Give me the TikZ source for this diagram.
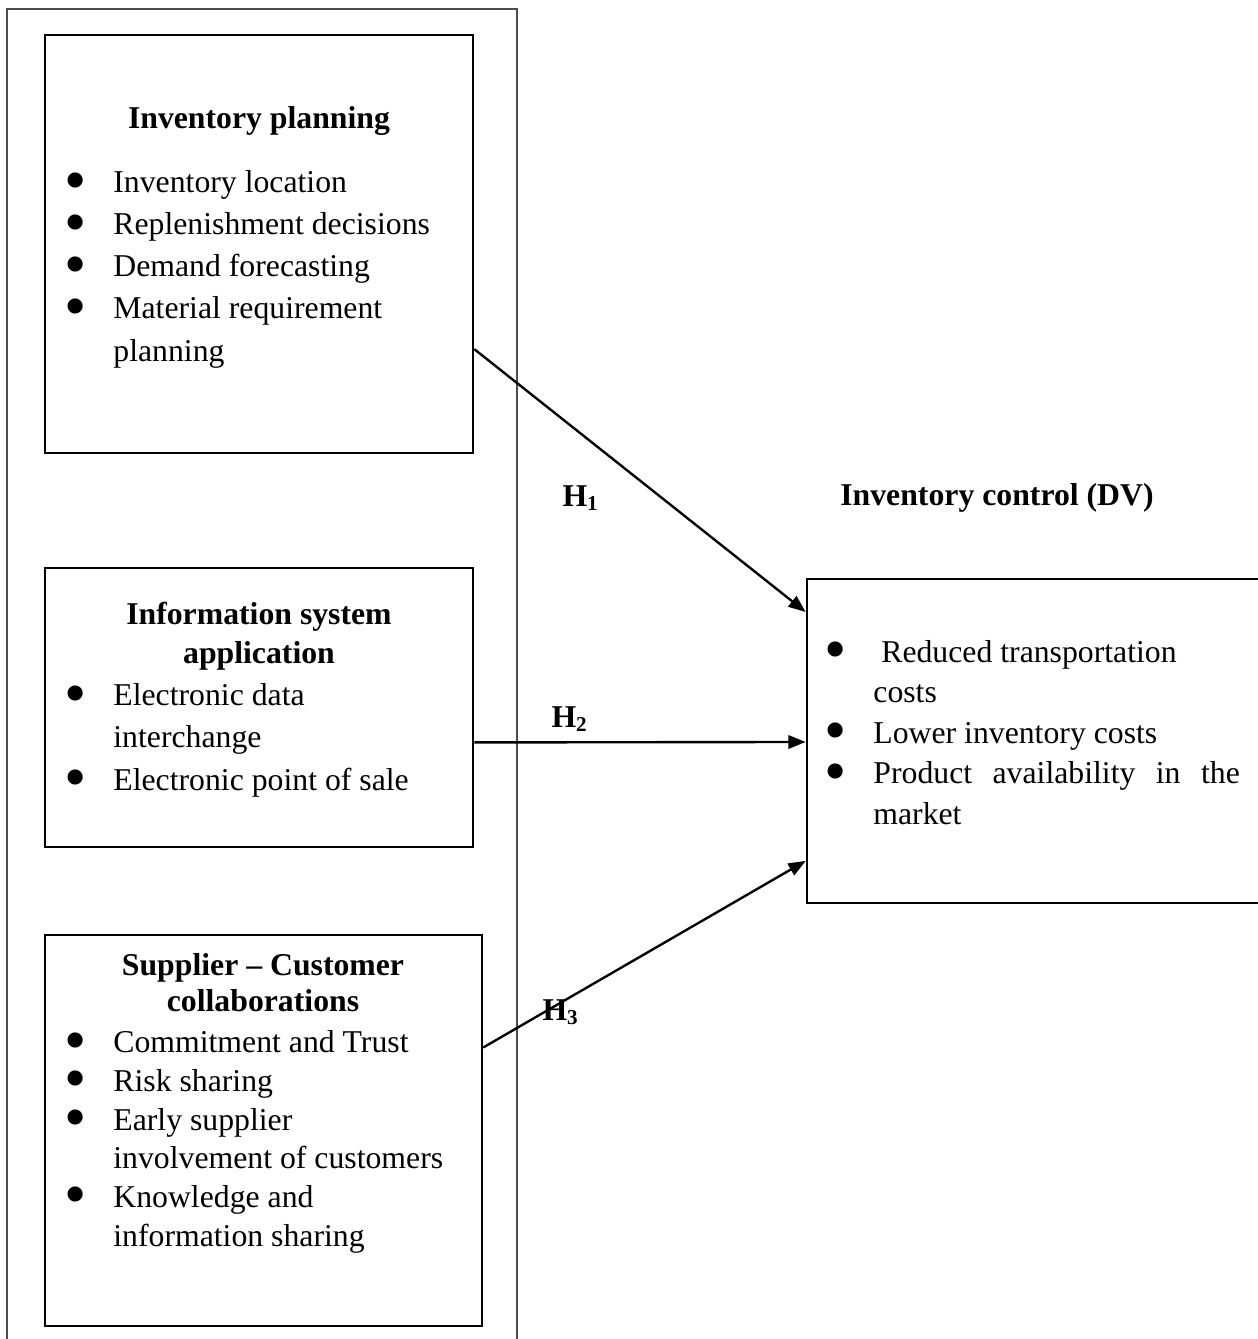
\documentclass[tikz,border=0pt]{standalone}
\usepackage{fontspec}
\setmainfont{Liberation Serif}
\usepackage{tikz}
\usetikzlibrary{arrows.meta,fit,calc}
\newcommand{\bul}{\makebox[18.4pt][l]{\smash{\raisebox{-3.2pt}{\fontsize{24pt}{24pt}\selectfont\textbullet}}}}
\newcommand{\ind}{\hspace*{18.4pt}}

\begin{document}
\begin{tikzpicture}[
    x=0.378pt,y=-0.378pt,
    >={Triangle[length=6.5pt,width=5pt]},
    box/.style={draw,line width=1pt,inner sep=0pt},
    frame/.style={draw=black!70,line width=0.45pt,inner sep=0pt},
    ttl/.style={inner sep=0pt,anchor=base,align=center,
                font=\bfseries\fontsize{12pt}{#1}\selectfont},
    ttl/.default=14.7pt,
    lst/.style={inner sep=0pt,anchor=base west,align=left,
                font=\fontsize{12pt}{#1}\selectfont},
    hyp/.style={inner sep=0pt,anchor=base west,font=\bfseries\fontsize{12pt}{14pt}\selectfont},
    link/.style={->,line width=0.9pt},
]
\useasboundingbox (0,0) rectangle (1258,1339);
\clip (0,0) rectangle (1258,1339);

% ---- independent variables, grouped in one frame ----
% (multi-line nodes sit on the baseline of their last line)
\node[frame,fit={(7,9)(517,1360)}] (ivs) {};

\node[box,fit={(45,35)(473,453)}] (plan) {};
\node[ttl] (planT) at (259,128) {Inventory planning};
\node[lst=15.9pt] (planL) at (64.2,361)
  {\bul Inventory location\\ \bul Replenishment decisions\\ \bul Demand forecasting\\
   \bul Material requirement\\ \ind planning};

\node[box,fit={(45,568)(473,847)}] (info) {};
\node[ttl] (infoT) at (259,663) {Information system\\application};
\node[lst=15.9pt] (infoL) at (64.2,790)
  {\bul Electronic data\\ \ind interchange\\ \bul Electronic point of sale};

\node[box,fit={(45,935)(482,1326)}] (collab) {};
\node[ttl=13.5pt] (collabT) at (263,1011) {Supplier – Customer\\collaborations};
\node[lst=14.6pt] (collabL) at (64.2,1246)
  {\bul Commitment and Trust\\ \bul Risk sharing\\ \bul Early supplier\\
   \ind involvement of customers\\ \bul Knowledge and\\ \ind information sharing};

% ---- dependent variable ----
\node[ttl] (ctrlT) at (997,505) {Inventory control (DV)};
\node[box,fit={(807,579)(1265,903)}] (ctrl) {};
\node[lst=15.3pt] (ctrlL) at (824.2,824)
  {\bul\ Reduced transportation\\ \ind costs\\ \bul Lower inventory costs\\
   \bul\hbox to 138.5pt{Product\hfill availability\hfill in\hfill the}\\ \ind market};

% ---- hypotheses ----
\draw[link] ($(plan.north east)!0.75!(plan.south east)$) -- ($(ctrl.north west)!0.105!(ctrl.south west)$);
\draw[link] ($(info.north east)!0.624!(info.south east)$) -- ($(ctrl.north west)!0.503!(ctrl.south west)$);
\draw[link] ($(collab.north east)!0.289!(collab.south east)$) -- ($(ctrl.north west)!0.867!(ctrl.south west)$);

\node[hyp] (h1) at (562,506) {H\textsubscript{1}};
\node[hyp] (h2) at (551,727) {H\textsubscript{2}};
\node[hyp] (h3) at (542,1020) {H\textsubscript{3}};

\end{tikzpicture}
\end{document}
